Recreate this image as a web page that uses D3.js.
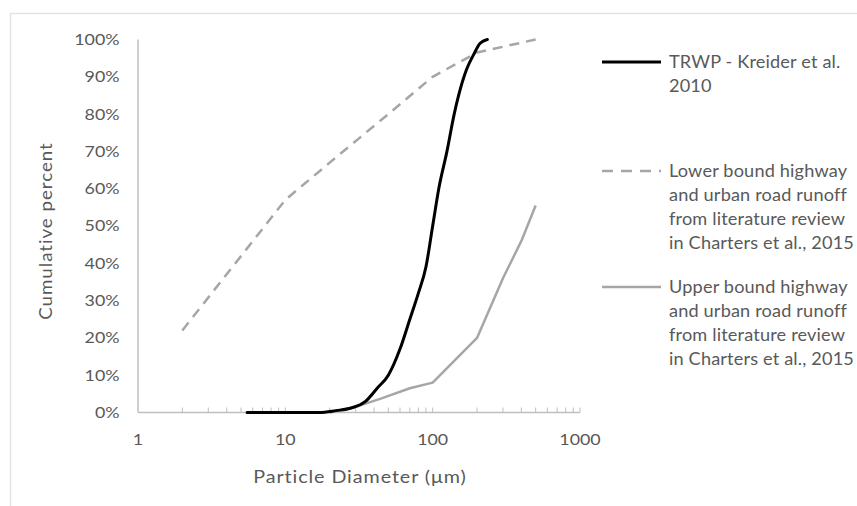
<!DOCTYPE html>
<html>
<head>
<meta charset="utf-8">
<script src="https://cdn.jsdelivr.net/npm/d3@7"></script>
<style>
  body { margin: 0; background: #fff; }
  text { font-family: Lato, "Open Sans", sans-serif; fill: #595959; }
</style>
</head>
<body>
<div id="chart"></div>
<script>
// particle diameter (um) -> cumulative percent
var trwpSize = [5.5, 10, 17, 22, 28, 35, 42, 50, 60, 70, 80, 90, 100, 110, 125, 140, 150, 170, 190, 210, 235];
var trwpPct  = [0, 0, 0, 0.5, 1.2, 3, 6.5, 10, 17, 25, 32, 39, 50, 60, 70, 80, 85, 92, 96, 99, 100];

var lowerSize = [2, 10, 20, 50, 100, 200, 500];
var lowerPct  = [22, 57, 67, 80, 90, 96.5, 100];

var upperSize = [20, 30, 45, 70, 100, 200, 300, 400, 500];
var upperPct  = [0, 1.5, 3.8, 6.5, 8, 20, 36, 46, 55.5];

var yTicks = [0, 10, 20, 30, 40, 50, 60, 70, 80, 90, 100];
var xTicks = [1, 10, 100, 1000];

var legendItems = [
  { lines: ["TRWP - Kreider et al.", "2010"], color: "#000", width: 3, dash: null },
  { lines: ["Lower bound highway", "and urban road runoff", "from literature review", "in Charters et al., 2015"], color: "#a6a6a6", width: 2.5, dash: "11,8" },
  { lines: ["Upper bound highway", "and urban road runoff", "from literature review", "in Charters et al., 2015"], color: "#a6a6a6", width: 2.5, dash: null }
];

var width = 857, height = 506;
var svg = d3.select("#chart").append("svg")
  .attr("width", width)
  .attr("height", height);

// the source picture is a little stretched sideways, so text gets a horizontal scale
function place(sel, fx, fy, sx, rot) {
  sel.attr("transform", function(d, i) {
    return "translate(" + fx(d, i) + "," + fy(d, i) + ")" + (rot ? " rotate(" + rot + ")" : "") + " scale(" + sx + ",1)";
  });
}

// outer frame (cut off at the right and bottom edges)
svg.append("rect")
  .attr("x", 10.5).attr("y", 13.5)
  .attr("width", 900).attr("height", 600)
  .attr("fill", "none")
  .attr("stroke", "#e3e3e3")
  .attr("stroke-width", 1.5);

var x = d3.scaleLog().domain([1, 1000]).range([138, 580]);
var y = d3.scaleLinear().domain([0, 100]).range([412.5, 39.5]);

// y axis line
svg.append("line")
  .attr("x1", 138).attr("x2", 138)
  .attr("y1", y(100)).attr("y2", y(0))
  .attr("stroke", "#bfbfbf").attr("stroke-width", 1.5);

var ylab = svg.selectAll(".ylab").data(yTicks).enter().append("text")
  .attr("dy", "0.35em")
  .attr("text-anchor", "end")
  .style("font-size", "15.5px")
  .text(function(d) { return d + "%"; });
place(ylab, function() { return 119.5; }, function(d) { return y(d); }, 1.15);

// x axis line and ticks (inside ticks, minor at 2..9 of each decade)
svg.append("line")
  .attr("x1", 138).attr("x2", 580)
  .attr("y1", y(0)).attr("y2", y(0))
  .attr("stroke", "#bfbfbf").attr("stroke-width", 1.5);

var minor = [];
[1, 10, 100].forEach(function(dec) {
  for (var k = 2; k <= 10; k++) minor.push(dec * k);
});
svg.selectAll(".mt").data(minor).enter().append("line")
  .attr("x1", function(d) { return x(d); })
  .attr("x2", function(d) { return x(d); })
  .attr("y1", y(0)).attr("y2", y(0) - 5)
  .attr("stroke", "#bfbfbf").attr("stroke-width", 1);

var xlab = svg.selectAll(".xlab").data(xTicks).enter().append("text")
  .attr("dy", "0.35em")
  .attr("text-anchor", "middle")
  .style("font-size", "15.5px")
  .text(function(d) { return d; });
place(xlab, function(d) { return x(d); }, function() { return 440; }, 1.15);

// axis titles
var xt = svg.append("text")
  .attr("text-anchor", "middle")
  .attr("dy", "0.35em")
  .style("font-size", "17px")
  .style("letter-spacing", "0.8px")
  .text("Particle Diameter (\u03bcm)");
place(xt, function() { return 360; }, function() { return 477; }, 1.16);

var yt = svg.append("text")
  .attr("text-anchor", "middle")
  .attr("dy", "0.35em")
  .style("font-size", "17px")
  .style("letter-spacing", "0.9px")
  .text("Cumulative percent");
place(yt, function() { return 46; }, function() { return 231; }, 1.1, -90);

// series
var line = d3.line()
  .x(function(d) { return x(d[0]); })
  .y(function(d) { return y(d[1]); });

svg.append("path")
  .datum(d3.zip(upperSize, upperPct))
  .attr("d", line)
  .attr("fill", "none").attr("stroke", "#a6a6a6").attr("stroke-width", 2.5)
  .attr("stroke-linejoin", "round");

svg.append("path")
  .datum(d3.zip(lowerSize, lowerPct))
  .attr("d", line)
  .attr("fill", "none").attr("stroke", "#a6a6a6").attr("stroke-width", 2.5)
  .attr("stroke-dasharray", "10,7");

svg.append("path")
  .datum(d3.zip(trwpSize, trwpPct))
  .attr("d", line.curve(d3.curveMonotoneX))
  .attr("fill", "none").attr("stroke", "#000").attr("stroke-width", 3)
  .attr("stroke-linecap", "round");

// legend
var legendTop = [62, 171, 287];
var lg = svg.selectAll(".leg").data(legendItems).enter().append("g")
  .attr("transform", function(d, i) { return "translate(0," + legendTop[i] + ")"; });

lg.append("line")
  .attr("x1", 602).attr("x2", 661)
  .attr("y1", 0).attr("y2", 0)
  .attr("stroke", function(d) { return d.color; })
  .attr("stroke-width", function(d) { return d.width; })
  .attr("stroke-dasharray", function(d) { return d.dash; });

lg.each(function(d) {
  var g = d3.select(this);
  var t = g.selectAll("text").data(d.lines).enter().append("text")
    .attr("dy", "0.35em")
    .style("font-size", "16.5px")
    .style("letter-spacing", "0.15px")
    .text(function(s) { return s; });
  place(t, function() { return 669; }, function(s, j) { return j * 24; }, 1.1);
});
</script>
</body>
</html>
